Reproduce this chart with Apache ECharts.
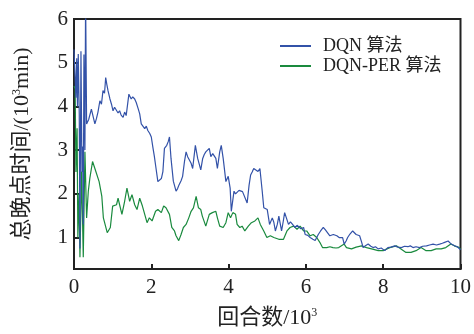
<!DOCTYPE html>
<html><head><meta charset="utf-8">
<script src="https://cdn.jsdelivr.net/npm/echarts@6/dist/echarts.min.js"></script>
<style>html,body{margin:0;padding:0;background:#fff}#c{width:474px;height:334px}</style>
</head><body><div id="c"></div>
<script>
const seriesNames = ['DQN 算法', 'DQN-PER 算法'];
const xTicks = [0, 2, 4, 6, 8, 10];
const yTicks = [1, 2, 3, 4, 5, 6];

const dqnX = [0.00,0.026,0.05,0.07,0.09,0.11,0.136,0.154,0.18,0.206,0.224,0.24,0.257,0.283,0.30,0.326,
  0.38,0.45,0.50,0.54,0.58,0.62,0.67,0.71,0.75,0.79,0.82,0.85,0.88,0.93,0.97,1.01,1.05,1.10,1.14,1.18,1.22,1.27,1.31,1.35,1.42,1.48,1.52,1.57,1.61,1.66,1.70,1.74,1.79,1.83,1.87,1.91,1.96,2.00,2.04,
  2.08,2.11,2.17,2.21,2.26,2.30,2.34,2.40,2.44,2.47,2.51,2.57,2.64,2.68,2.72,2.77,2.81,2.86,2.90,2.94,2.98,3.03,3.07,3.14,3.20,3.28,3.33,3.37,3.41,3.46,3.50,3.54,3.59,3.63,3.67,3.71,3.77,3.81,3.86,3.93,3.99,4.04,4.07,4.14,4.18,4.22,4.27,4.31,4.36,4.40,4.48,4.53,4.57,4.61,4.65,4.70,4.76,4.81,4.87,4.91,4.96,5.00,5.06,5.13,5.17,5.21,5.26,5.30,5.37,5.41,5.45,5.49,5.55,5.60,5.64,5.72,5.77,5.81,5.87,5.94,5.98,6.05,6.11,6.18,6.24,6.32,6.38,6.45,6.50,6.54,6.62,6.71,6.80,6.86,6.95,6.99,7.04,7.08,7.14,7.21,7.26,7.30,7.39,7.44,7.48,7.55,7.61,7.68,7.74,7.80,7.87,7.95,8.04,8.12,8.20,8.30,8.38,8.47,8.55,8.64,8.70,8.77,8.85,8.94,9.02,9.12,9.20,9.29,9.38,9.46,9.53,9.59,9.68,9.76,9.85,9.92,9.97,10.0];
const dqnY = [5.30,5.34,4.20,5.10,4.00,5.20,3.83,0.75,5.26,2.50,3.08,1.30,5.19,3.00,6.50,3.60,
  3.70,3.94,3.75,3.60,3.72,3.87,4.13,4.05,4.36,4.30,4.66,4.50,4.36,4.17,4.05,3.90,3.98,4.00,3.85,3.90,3.80,3.75,3.87,3.79,4.28,4.17,4.22,4.17,4.09,3.95,3.83,3.60,3.62,3.49,3.55,3.45,3.38,3.30,3.07,
  2.85,2.66,2.28,2.24,2.35,2.51,3.04,3.11,3.20,3.30,2.81,2.29,2.06,2.12,2.21,2.30,2.40,2.75,2.96,2.85,2.81,2.70,2.58,3.11,2.81,2.55,2.81,2.90,2.96,2.92,3.04,2.85,2.92,2.88,2.81,2.58,2.96,3.11,2.81,2.28,2.40,2.13,1.60,2.06,2.00,2.02,2.08,2.09,2.05,2.02,1.79,2.20,2.43,2.50,2.58,2.62,2.51,2.58,2.06,1.68,1.70,1.64,1.30,1.45,1.35,1.15,1.30,1.49,1.15,1.35,1.57,1.60,1.30,1.36,1.38,1.23,1.28,1.26,1.20,1.23,1.07,1.05,1.00,0.96,0.93,1.07,1.15,1.23,1.18,1.15,1.04,1.07,1.04,1.00,1.00,0.85,0.92,1.00,1.08,1.15,1.12,1.07,1.04,0.90,0.77,0.82,0.85,0.80,0.77,0.79,0.74,0.76,0.70,0.77,0.78,0.81,0.78,0.77,0.80,0.79,0.81,0.77,0.79,0.77,0.80,0.81,0.83,0.85,0.83,0.85,0.87,0.89,0.92,0.85,0.81,0.79,0.77,0.72];

const perX = [0.00,0.03,0.05,0.08,0.10,0.13,0.154,0.197,0.24,0.283,0.326,0.37,0.41,0.48,0.54,0.58,0.65,0.72,0.76,0.80,0.86,0.91,0.94,1.00,1.05,1.10,1.14,1.18,1.24,1.31,1.37,1.44,1.50,1.57,1.63,1.70,1.77,1.83,1.89,1.95,2.02,2.11,2.17,2.26,2.32,2.38,2.47,2.53,2.60,2.64,2.71,2.77,2.83,2.90,2.97,3.03,3.09,3.16,3.22,3.28,3.32,3.41,3.50,3.58,3.67,3.71,3.77,3.86,3.93,3.99,4.05,4.11,4.18,4.22,4.29,4.35,4.42,4.51,4.59,4.68,4.76,4.82,4.91,4.99,5.08,5.17,5.30,5.42,5.51,5.59,5.68,5.77,5.85,5.94,6.02,6.11,6.19,6.28,6.36,6.43,6.54,6.62,6.70,6.78,6.85,6.99,7.05,7.18,7.30,7.44,7.57,7.70,7.87,8.00,8.17,8.34,8.46,8.59,8.72,8.85,8.98,9.11,9.24,9.37,9.50,9.62,9.75,9.84,9.97,10.0];
const perY = [4.47,4.40,2.50,3.50,1.00,2.00,0.55,2.51,0.55,2.96,1.45,2.06,2.36,2.74,2.58,2.62,2.28,1.94,1.45,1.45,1.11,1.11,1.23,1.72,1.68,1.75,1.90,1.75,1.53,1.83,2.13,1.83,1.98,1.75,1.64,1.90,1.72,1.53,1.34,1.45,1.38,1.60,1.64,1.57,1.72,1.68,1.53,1.23,1.15,1.04,0.93,1.07,1.23,1.30,1.45,1.60,1.68,1.94,1.68,1.64,1.49,1.26,1.53,1.57,1.60,1.45,1.26,1.23,1.34,1.57,1.45,1.57,1.53,1.30,1.23,1.26,1.15,1.26,1.34,1.38,1.45,1.30,1.15,1.00,1.04,1.00,0.96,0.96,1.15,1.23,1.26,1.19,1.26,1.15,1.15,1.04,1.07,1.00,0.89,0.77,0.77,0.79,0.77,0.76,0.77,0.85,0.77,0.74,0.78,0.81,0.77,0.74,0.70,0.70,0.77,0.81,0.74,0.66,0.66,0.70,0.77,0.70,0.70,0.74,0.74,0.77,0.85,0.81,0.77,0.74];

const zip = (xs, ys) => xs.map((x, i) => [x, ys[i]]);
const FONT = "'Liberation Serif','Times New Roman','Noto Sans CJK SC',serif";
const supStyle = {fontFamily: FONT, fontSize: 12, verticalAlign: 'top', padding: [0, 0, 10, 0]};

const chart = echarts.init(document.getElementById('c'), null, {renderer: 'canvas'});
chart.setOption({
  animation: false,
  backgroundColor: '#fff',
  grid: {left: 74, right: 11, top: 19, bottom: 62, show: true, borderColor: '#222', borderWidth: 2, backgroundColor: 'transparent'},
  legend: {
    orient: 'vertical', left: 275, top: 32, itemWidth: 31, itemHeight: 14, itemGap: 2,
    data: seriesNames.map(n => ({name: n, icon: 'path://M0,6 L31,6 L31,8 L0,8 Z'})),
    textStyle: {fontFamily: FONT, fontSize: 18, color: '#222', padding: [0, 0, 0, 7]}
  },
  xAxis: {
    type: 'value', min: 0, max: 10, interval: 2,
    name: '回合数/10{sup|3}', nameLocation: 'middle', nameGap: 38,
    nameTextStyle: {fontFamily: FONT, fontSize: 22, color: '#222', rich: {sup: supStyle}},
    axisLine: {show: true, lineStyle: {color: '#222', width: 2}},
    axisTick: {show: true, inside: true, length: 5, lineStyle: {color: '#222', width: 2}},
    axisLabel: {fontFamily: FONT, fontSize: 21, color: '#222', margin: 8, formatter: v => xTicks.includes(v) ? String(v) : ''},
    splitLine: {show: false}
  },
  yAxis: {
    type: 'value', min: 0.28, max: 6,
    name: '总晚点时间/(10{sup|3}min)', nameLocation: 'middle', nameGap: 41,
    nameTextStyle: {fontFamily: FONT, fontSize: 22, color: '#222', rich: {sup: supStyle}},
    axisLine: {show: true, lineStyle: {color: '#222', width: 2}},
    axisTick: {show: true, inside: true, length: 5, lineStyle: {color: '#222', width: 2}, customValues: yTicks},
    axisLabel: {fontFamily: FONT, fontSize: 21, color: '#222', margin: 6, customValues: yTicks},
    splitLine: {show: false}
  },
  series: [
    {name: seriesNames[0], type: 'line', data: zip(dqnX, dqnY), showSymbol: false, symbol: 'none', lineStyle: {color: '#3352a8', width: 1.2}, itemStyle: {color: '#3352a8'}, z: 3},
    {name: seriesNames[1], type: 'line', data: zip(perX, perY), showSymbol: false, symbol: 'none', lineStyle: {color: '#1a8a3e', width: 1.2}, itemStyle: {color: '#1a8a3e'}, z: 2}
  ]
});
</script></body></html>
